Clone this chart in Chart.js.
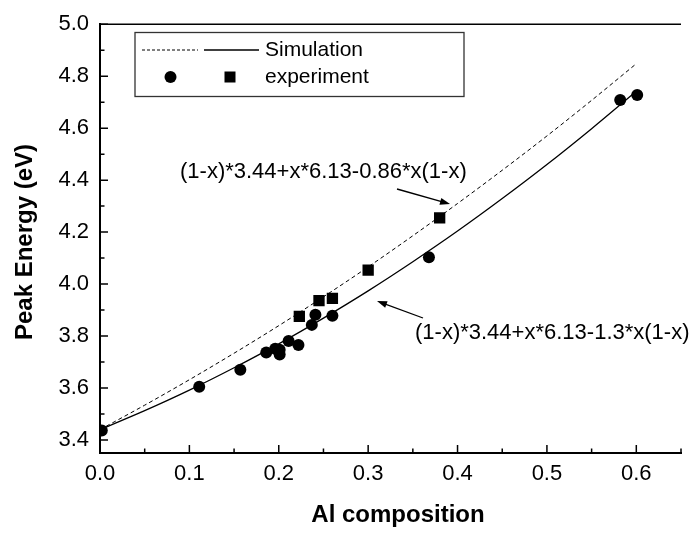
<!DOCTYPE html>
<html lang="en">
<head>
  <meta charset="UTF-8">
  <title>Peak Energy vs Al composition</title>
  <script src="https://cdn.jsdelivr.net/npm/chart.js"></script>
  <style>
    body { margin: 0; background: #fff; }
  </style>
</head>
<body>

<canvas id="chart" width="689" height="533"></canvas>

<script>
  // simulation curves
  const simX = [0, 0.05, 0.1, 0.15, 0.2, 0.25, 0.3, 0.35, 0.4, 0.45, 0.5, 0.55, 0.6];
  const simDashed = [3.44, 3.534, 3.632, 3.734, 3.840, 3.951, 4.066, 4.186, 4.310, 4.438, 4.570, 4.707, 4.848];
  const simSolid = [3.44, 3.513, 3.592, 3.678, 3.770, 3.869, 3.974, 4.086, 4.204, 4.329, 4.460, 4.598, 4.742];

  // experiment: circles
  const circX = [0.002, 0.111, 0.157, 0.186, 0.196, 0.201, 0.201, 0.211, 0.222, 0.237, 0.241, 0.26, 0.368, 0.582, 0.601];
  const circY = [3.437, 3.605, 3.670, 3.737, 3.751, 3.747, 3.729, 3.781, 3.766, 3.843, 3.882, 3.878, 4.103, 4.708, 4.728];

  // experiment: squares
  const sqX = [0.223, 0.245, 0.26, 0.30, 0.38];
  const sqY = [3.876, 3.936, 3.945, 4.054, 4.255];

  const xTicks = [0, 0.1, 0.2, 0.3, 0.4, 0.5, 0.6];
  const xMinor = [0.05, 0.15, 0.25, 0.35, 0.45, 0.55, 0.65];
  const yTicks = [3.4, 3.6, 3.8, 4.0, 4.2, 4.4, 4.6, 4.8, 5.0];
  const yMinor = [3.5, 3.7, 3.9, 4.1, 4.3, 4.5, 4.7, 4.9];

  const FONT = '"Liberation Sans", Arial, sans-serif';

  const toPts = (xs, ys) => xs.map((x, i) => ({ x: x, y: ys[i] }));

  function arrow(ctx, x1, y1, x2, y2) {
    const a = Math.atan2(y2 - y1, x2 - x1);
    ctx.beginPath();
    ctx.moveTo(x1, y1);
    ctx.lineTo(x2 - 6 * Math.cos(a), y2 - 6 * Math.sin(a));
    ctx.stroke();
    ctx.beginPath();
    ctx.moveTo(x2, y2);
    ctx.lineTo(x2 - 10 * Math.cos(a) + 3.5 * Math.sin(a), y2 - 10 * Math.sin(a) - 3.5 * Math.cos(a));
    ctx.lineTo(x2 - 10 * Math.cos(a) - 3.5 * Math.sin(a), y2 - 10 * Math.sin(a) + 3.5 * Math.cos(a));
    ctx.closePath();
    ctx.fill();
  }

  // inward ticks, top border, axis titles, legend box and formula labels
  const decorations = {
    id: 'decorations',
    afterDraw(chart) {
      const ctx = chart.ctx;
      const xs = chart.scales.x, ys = chart.scales.y;
      const area = chart.chartArea;
      ctx.save();
      ctx.strokeStyle = '#000';
      ctx.fillStyle = '#000';

      // top border
      ctx.lineWidth = 1.5;
      ctx.beginPath();
      ctx.moveTo(area.left, area.top);
      ctx.lineTo(area.right, area.top);
      ctx.stroke();

      // ticks
      ctx.lineWidth = 1.5;
      ctx.beginPath();
      xTicks.forEach(v => { const px = xs.getPixelForValue(v); ctx.moveTo(px, area.bottom); ctx.lineTo(px, area.bottom - 8); });
      xMinor.forEach(v => { const px = xs.getPixelForValue(v); ctx.moveTo(px, area.bottom); ctx.lineTo(px, area.bottom - 4.5); });
      yTicks.forEach(v => { const py = ys.getPixelForValue(v); ctx.moveTo(area.left, py); ctx.lineTo(area.left + 8, py); });
      yMinor.forEach(v => { const py = ys.getPixelForValue(v); ctx.moveTo(area.left, py); ctx.lineTo(area.left + 4.5, py); });
      ctx.stroke();

      // axis titles
      ctx.font = 'bold 24px ' + FONT;
      ctx.textAlign = 'center';
      ctx.textBaseline = 'middle';
      ctx.fillText('Al composition', 398, 515);
      ctx.save();
      ctx.translate(25, 242);
      ctx.rotate(-Math.PI / 2);
      ctx.fillText('Peak Energy (eV)', 0, 0);
      ctx.restore();

      // legend
      ctx.fillStyle = '#fff';
      ctx.fillRect(135, 32.5, 329, 64);
      ctx.strokeStyle = '#333';
      ctx.lineWidth = 1.3;
      ctx.strokeRect(135, 32.5, 329, 64);
      ctx.strokeStyle = '#000';
      ctx.fillStyle = '#000';
      ctx.lineWidth = 1;
      ctx.setLineDash([3, 2]);
      ctx.beginPath(); ctx.moveTo(142, 50); ctx.lineTo(198, 50); ctx.stroke();
      ctx.setLineDash([]);
      ctx.lineWidth = 1.3;
      ctx.beginPath(); ctx.moveTo(204, 50); ctx.lineTo(259, 50); ctx.stroke();
      ctx.beginPath(); ctx.arc(170.5, 77, 6, 0, Math.PI * 2); ctx.fill();
      ctx.fillRect(224.5, 71.5, 11, 11);
      ctx.font = '21px ' + FONT;
      ctx.textAlign = 'left';
      ctx.fillText('Simulation', 265, 50);
      ctx.fillText('experiment', 265, 77);

      // formula labels with arrows
      ctx.font = '22px ' + FONT;
      ctx.fillText('(1-x)*3.44+x*6.13-0.86*x(1-x)', 180, 172);
      ctx.fillText('(1-x)*3.44+x*6.13-1.3*x(1-x)', 415, 333);
      ctx.lineWidth = 1.3;
      arrow(ctx, 397, 189, 450, 204);
      arrow(ctx, 423, 318, 377, 301);

      ctx.restore();
    }
  };

  const ctx = document.getElementById('chart').getContext('2d');
  new Chart(ctx, {
    type: 'scatter',
    data: {
      datasets: [
        {
          label: 'Simulation (b=0.86)',
          data: toPts(simX, simDashed),
          showLine: true,
          borderColor: '#000',
          borderWidth: 1,
          borderDash: [4, 3],
          pointRadius: 0,
          tension: 0.3,
          cubicInterpolationMode: 'monotone'
        },
        {
          label: 'Simulation (b=1.3)',
          data: toPts(simX, simSolid),
          showLine: true,
          borderColor: '#000',
          borderWidth: 1.3,
          pointRadius: 0,
          tension: 0.3,
          cubicInterpolationMode: 'monotone'
        },
        {
          label: 'experiment',
          data: toPts(circX, circY),
          pointStyle: 'circle',
          pointRadius: 6,
          backgroundColor: '#000',
          borderColor: '#000',
          borderWidth: 0
        },
        {
          label: 'experiment',
          data: toPts(sqX, sqY),
          pointStyle: 'rect',
          pointRadius: 8,
          backgroundColor: '#000',
          borderColor: '#000',
          borderWidth: 0
        }
      ]
    },
    options: {
      responsive: false,
      animation: false,
      events: [],
      layout: { padding: { top: 16, right: 0, left: 0, bottom: 0 } },
      plugins: {
        legend: { display: false },
        tooltip: { enabled: false }
      },
      scales: {
        x: {
          type: 'linear',
          min: 0,
          max: 0.65,
          grid: { display: false, drawTicks: false },
          border: { display: true, color: '#000', width: 2 },
          afterBuildTicks: s => { s.ticks = xTicks.map(v => ({ value: v })); },
          afterFit: s => { s.height = 80; },
          ticks: {
            color: '#000',
            padding: 8,
            maxRotation: 0,
            font: { family: FONT, size: 22 },
            callback: v => v.toFixed(1)
          }
        },
        y: {
          min: 3.35,
          max: 5.0,
          grid: { display: false, drawTicks: false },
          border: { display: true, color: '#000', width: 2 },
          afterBuildTicks: s => { s.ticks = yTicks.map(v => ({ value: v })); },
          afterFit: s => { s.width = 100; },
          ticks: {
            color: '#000',
            padding: 11,
            font: { family: FONT, size: 22 },
            callback: v => v.toFixed(1)
          }
        }
      }
    },
    plugins: [decorations]
  });
</script>

</body>
</html>
